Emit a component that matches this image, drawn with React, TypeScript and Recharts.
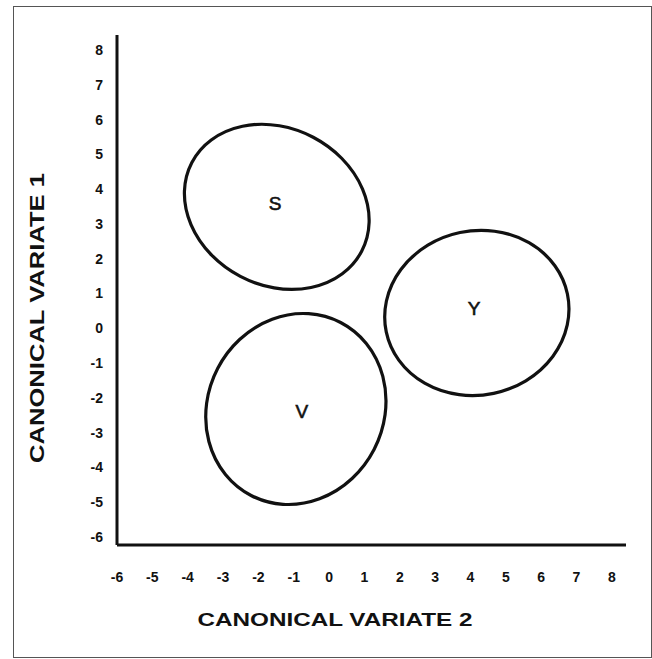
import { ScatterChart, Scatter, XAxis, YAxis } from "recharts";

// ellipse groups (data units)
const groups = ["S", "Y", "V"];
const centerX = [-1.48, 4.18, -0.94];
const centerY = [3.49, 0.44, -2.32];
const semiMajor = [2.72, 2.62, 2.79];
const semiMinor = [2.25, 2.36, 2.5];
const tiltDeg = [-28, 12, 63];
const labelX = [-1.53, 4.1, -0.77];
const labelY = [3.6, 0.58, -2.38];

const xTicks = [-6, -5, -4, -3, -2, -1, 0, 1, 2, 3, 4, 5, 6, 7, 8];
const yTicks = [-6, -5, -4, -3, -2, -1, 0, 1, 2, 3, 4, 5, 6, 7, 8];

const FONT = '"Liberation Sans", Arial, Helvetica, sans-serif';
const INK = "#111";

// centre + end of each semi-axis, so the outline follows the chart scales
const ellipseData = groups.map((_, i) => {
  const t = (tiltDeg[i] * Math.PI) / 180;
  return [
    { x: centerX[i], y: centerY[i] },
    { x: centerX[i] + semiMajor[i] * Math.cos(t), y: centerY[i] + semiMajor[i] * Math.sin(t) },
    { x: centerX[i] - semiMinor[i] * Math.sin(t), y: centerY[i] + semiMinor[i] * Math.cos(t) },
  ];
});

const labelData = groups.map((name, i) => ({ x: labelX[i], y: labelY[i], name }));

function EllipseOutline(props: any) {
  const pts = props.points;
  if (!pts || pts.length < 3) return <g />;
  const [c, p, q] = pts;
  const rx = Math.hypot(p.x - c.x, p.y - c.y);
  const ry = Math.hypot(q.x - c.x, q.y - c.y);
  const rot = (Math.atan2(p.y - c.y, p.x - c.x) * 180) / Math.PI;
  return (
    <ellipse
      cx={c.x}
      cy={c.y}
      rx={rx}
      ry={ry}
      transform={`rotate(${rot} ${c.x} ${c.y})`}
      fill="none"
      stroke={INK}
      strokeWidth={3.2}
    />
  );
}

function GroupLabel(props: any) {
  const { cx, cy, payload } = props;
  return (
    <text
      x={cx}
      y={cy}
      textAnchor="middle"
      dominantBaseline="central"
      fontFamily={FONT}
      fontSize={19}
      fill={INK}
      stroke={INK}
      strokeWidth={0.6}
    >
      {payload.name}
    </text>
  );
}

function XTitle(props: any) {
  const vb = props.viewBox || { x: 0, y: 0 };
  return (
    <text
      x={vb.x + 218}
      y={vb.y + 81}
      textAnchor="middle"
      fontFamily={FONT}
      fontWeight="bold"
      fontSize={19}
      fill={INK}
      textLength={275}
      lengthAdjust="spacingAndGlyphs"
    >
      CANONICAL VARIATE 2
    </text>
  );
}

function YTitle(props: any) {
  const vb = props.viewBox || { x: 0, y: 0 };
  const x = vb.x + 37;
  const y = vb.y + 283;
  return (
    <text
      x={x}
      y={y}
      transform={`rotate(-90 ${x} ${y})`}
      textAnchor="middle"
      dominantBaseline="central"
      fontFamily={FONT}
      fontWeight="bold"
      fontSize={20}
      fill={INK}
      textLength={290}
      lengthAdjust="spacingAndGlyphs"
    >
      CANONICAL VARIATE 1
    </text>
  );
}

const tickStyle = { fontSize: 14, fontWeight: "bold", fill: INK, fontFamily: FONT };

export default function App() {
  return (
    <div style={{ position: "absolute", left: 0, top: 0, width: 652, height: 659, background: "#fff" }}>
      <div
        style={{
          position: "absolute",
          left: 13,
          top: 6,
          width: 637,
          height: 650,
          border: "1.5px solid #555",
        }}
      />
      <div style={{ position: "absolute", left: 0, top: 0 }}>
        <ScatterChart width={652} height={659} margin={{ top: 35, right: 26, bottom: 0, left: 0 }}>
          <XAxis
            type="number"
            dataKey="x"
            domain={[-6, 8.4]}
            ticks={xTicks}
            interval={0}
            allowDataOverflow
            tickLine={false}
            axisLine={{ stroke: INK, strokeWidth: 3 }}
            tick={tickStyle}
            tickMargin={21}
            height={114}
            label={<XTitle />}
          />
          <YAxis
            type="number"
            dataKey="y"
            domain={[-6.23, 8.43]}
            ticks={yTicks}
            interval={0}
            allowDataOverflow
            tickLine={false}
            axisLine={{ stroke: INK, strokeWidth: 3 }}
            tick={tickStyle}
            tickMargin={8}
            width={117}
            label={<YTitle />}
          />
          {ellipseData.map((d, i) => (
            <Scatter
              key={groups[i]}
              data={d}
              fill={INK}
              shape={() => <g />}
              line={EllipseOutline}
              lineType="joint"
              isAnimationActive={false}
            />
          ))}
          <Scatter data={labelData} fill={INK} shape={GroupLabel} isAnimationActive={false} />
        </ScatterChart>
      </div>
    </div>
  );
}
